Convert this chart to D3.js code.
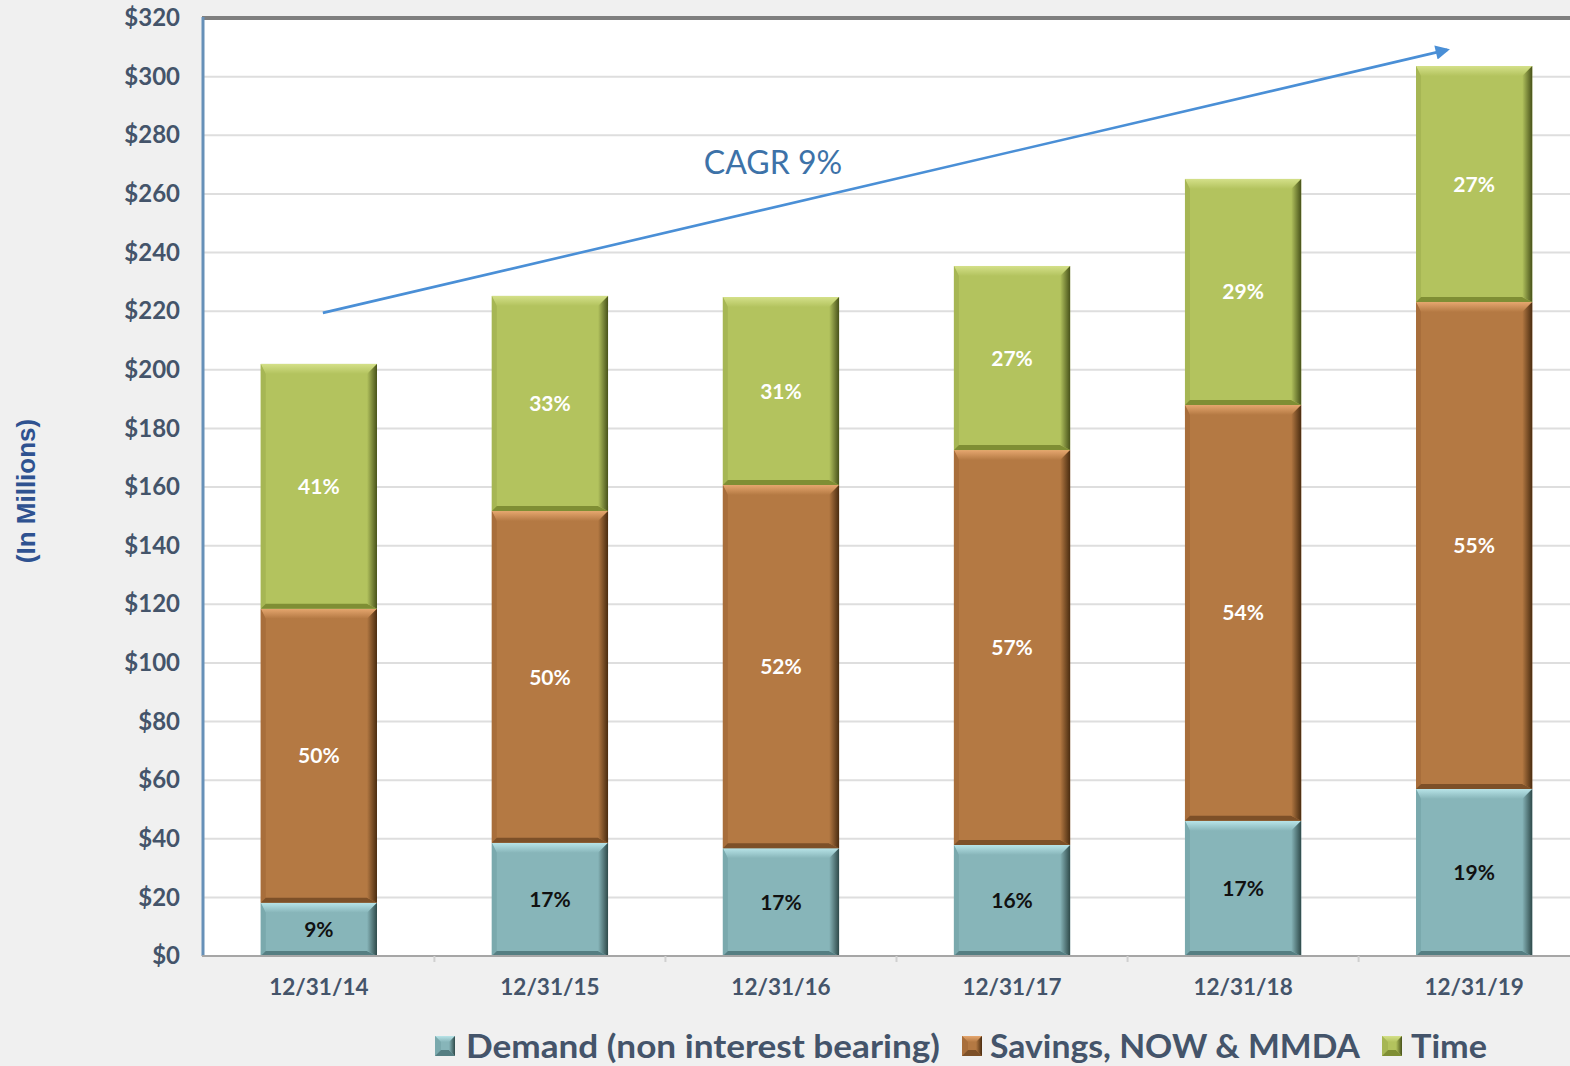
<!DOCTYPE html>
<html>
<head>
<meta charset="utf-8">
<script src="https://cdn.jsdelivr.net/npm/d3@7"></script>
<style>
  html, body { margin: 0; padding: 0; background: #f0f0f0; }
  svg { display: block; }
</style>
</head>
<body>
<svg id="chart" width="1570" height="1066"></svg>
<script>
// Deposit mix by year-end, in $ millions
const categories = ["12/31/14", "12/31/15", "12/31/16", "12/31/17", "12/31/18", "12/31/19"];
const demand  = [18.2, 38.6, 36.8, 37.9, 46.1, 57.0];
const savings = [100.3, 113.2, 123.9, 134.7, 141.9, 166.1];
const time    = [83.5, 73.4, 64.1, 62.8, 77.1, 80.5];
const demandPct  = ["9%", "17%", "17%", "16%", "17%", "19%"];
const savingsPct = ["50%", "50%", "52%", "57%", "54%", "55%"];
const timePct    = ["41%", "33%", "31%", "27%", "29%", "27%"];
const seriesNames = ["Demand (non interest bearing)", "Savings, NOW & MMDA", "Time"];
const yTicks = [0, 20, 40, 60, 80, 100, 120, 140, 160, 180, 200, 220, 240, 260, 280, 300, 320];
const cagrLabel = "CAGR 9%";

const svg = d3.select("#chart");
const W = 1570, H = 1066;
const plot = { left: 202, top: 18, bottom: 956, right: 1590 };

svg.append("rect").attr("width", W).attr("height", H).attr("fill", "#f0f0f0");
svg.append("rect")
  .attr("x", plot.left).attr("y", plot.top)
  .attr("width", W - plot.left).attr("height", plot.bottom - plot.top)
  .attr("fill", "#ffffff");

const x = d3.scaleBand().domain(categories).range([plot.left + 1, plot.right])
  .paddingInner(0.497).paddingOuter(0.25);
const y = d3.scaleLinear().domain([0, 320]).range([plot.bottom, plot.top]);

const styles = [
  { base: "#87b5b9", light: "#b8e4e8", left: "#7aa9ad", bottom: "#557e82", dark: "#2f4a4a", text: "#111111" },
  { base: "#b47943", light: "#e6a76f", left: "#a86e3b", bottom: "#7d5028", dark: "#4a2c10", text: "#ffffff" },
  { base: "#b3c35e", light: "#d4e089", left: "#a6b654", bottom: "#7f8e34", dark: "#48521a", text: "#ffffff" }
];

// gradients for the shaded edges of each bevelled segment
const defs = svg.append("defs");
styles.forEach((s, i) => {
  const g = defs.append("linearGradient").attr("id", "edge" + i)
    .attr("x1", "0").attr("y1", "0").attr("x2", "1").attr("y2", "0");
  g.append("stop").attr("offset", "0").attr("stop-color", s.base);
  g.append("stop").attr("offset", "1").attr("stop-color", s.dark);
  const t = defs.append("linearGradient").attr("id", "topg" + i)
    .attr("x1", "0").attr("y1", "0").attr("x2", "0").attr("y2", "1");
  t.append("stop").attr("offset", "0").attr("stop-color", s.light);
  t.append("stop").attr("offset", "1").attr("stop-color", s.base);
});

// horizontal gridlines
svg.append("g").selectAll("line")
  .data(yTicks.filter(v => v > 0 && v < 320))
  .join("line")
  .attr("x1", plot.left + 2).attr("x2", W)
  .attr("y1", d => y(d)).attr("y2", d => y(d))
  .attr("stroke", "#dedede").attr("stroke-width", 2);

function bevel(g, x0, x1, y0, y1, si, t, s, r, b) {
  const st = styles[si];
  g.append("rect").attr("x", x0).attr("y", y0).attr("width", x1 - x0).attr("height", y1 - y0).attr("fill", st.base);
  const poly = (pts, fill) => g.append("polygon").attr("points", pts.map(p => p.join(",")).join(" ")).attr("fill", fill);
  poly([[x0, y0], [x1, y0], [x1 - r, y0 + t], [x0 + s, y0 + t]], `url(#topg${si})`);
  poly([[x0, y0], [x0 + s, y0 + t], [x0 + s, y1 - b], [x0, y1]], st.left);
  poly([[x0, y1], [x0 + s, y1 - b], [x1 - r, y1 - b], [x1, y1]], st.bottom);
  poly([[x1, y0], [x1, y1], [x1 - r, y1 - b], [x1 - r, y0 + t]], `url(#edge${si})`);
}

// stacked data
const rows = categories.map((c, i) => ({ cat: c, demand: demand[i], savings: savings[i], time: time[i] }));
const stack = d3.stack().keys(["demand", "savings", "time"])(rows);
const pctLabels = [demandPct, savingsPct, timePct];

const barsG = svg.append("g");
stack.forEach((layer, si) => {
  layer.forEach((d, i) => {
    const x0 = x(categories[i]), x1 = x0 + x.bandwidth();
    const y0 = y(d[1]), y1 = y(d[0]);
    const g = barsG.append("g");
    bevel(g, x0, x1, y0, y1, si, 10, 5, 10, 5);
    g.append("text")
      .attr("x", x0 + x.bandwidth() / 2).attr("y", (y0 + y1) / 2)
      .attr("dy", "0.36em").attr("text-anchor", "middle")
      .attr("font-family", "Lato, 'Open Sans', sans-serif").attr("font-weight", 700)
      .attr("font-size", 21).attr("fill", styles[si].text)
      .text(pctLabels[si][i]);
  });
});

// plot frame: top border, left axis, bottom axis
svg.append("line").attr("x1", plot.left).attr("x2", W).attr("y1", plot.top).attr("y2", plot.top)
  .attr("stroke", "#7f7f7f").attr("stroke-width", 4);
svg.append("line").attr("x1", plot.left + 1).attr("x2", plot.left + 1).attr("y1", plot.top - 1).attr("y2", plot.bottom)
  .attr("stroke", "#6690b8").attr("stroke-width", 3);

const xAxis = svg.append("g").attr("transform", `translate(0,${plot.bottom})`)
  .call(d3.axisBottom(x).tickSize(0).tickPadding(23));
xAxis.select(".domain").attr("stroke", "#a6a6a6").attr("stroke-width", 2)
  .attr("d", `M${plot.left},0H${W}`);
xAxis.selectAll("text")
  .attr("font-family", "Lato, 'Open Sans', sans-serif").attr("font-weight", 700)
  .attr("font-size", 22.5).attr("fill", "#44546a").attr("dy", "0.71em");
// separators between categories
svg.append("g").selectAll("line")
  .data(categories.slice(1))
  .join("line")
  .attr("x1", d => x(d) - x.step() * x.paddingInner() / 2)
  .attr("x2", d => x(d) - x.step() * x.paddingInner() / 2)
  .attr("y1", plot.bottom).attr("y2", plot.bottom + 6)
  .attr("stroke", "#d0d0d0").attr("stroke-width", 2);

const yAxis = svg.append("g").attr("transform", `translate(${plot.left},0)`)
  .call(d3.axisLeft(y).tickValues(yTicks).tickSize(0).tickPadding(22).tickFormat(d => "$" + d));
yAxis.select(".domain").remove();
yAxis.selectAll("text")
  .attr("font-family", "Lato, 'Open Sans', sans-serif").attr("font-weight", 700)
  .attr("font-size", 24).attr("fill", "#44546a");

// y axis title
svg.append("text")
  .attr("transform", `translate(35,${491}) rotate(-90)`)
  .attr("text-anchor", "middle")
  .attr("font-family", "'Liberation Sans', Arial, sans-serif").attr("font-weight", 700)
  .attr("font-size", 26).attr("fill", "#2f5290")
  .text("(In Millions)");

// growth arrow annotation
const arrowStart = [x(categories[0]) + x.bandwidth() / 2 + 4, y(219.4)];
const arrowEnd = [x(categories[5]) + x.bandwidth() / 2 - 25, y(309.3)];
defs.append("marker").attr("id", "arrowhead")
  .attr("viewBox", "0 0 10 10").attr("refX", 8).attr("refY", 5)
  .attr("markerWidth", 7).attr("markerHeight", 5.5).attr("orient", "auto")
  .attr("markerUnits", "strokeWidth")
  .append("path").attr("d", "M0,0L10,5L0,10Z").attr("fill", "#4a8fd6");
svg.append("line")
  .attr("x1", arrowStart[0]).attr("y1", arrowStart[1])
  .attr("x2", arrowEnd[0] - 2).attr("y2", arrowEnd[1] + 0.5)
  .attr("stroke", "#4a8fd6").attr("stroke-width", 2.6)
  .attr("marker-end", "url(#arrowhead)");
svg.append("text")
  .attr("x", x(categories[2]) + x.bandwidth() / 2 - 8).attr("y", y(270.6))
  .attr("dy", "0.36em").attr("text-anchor", "middle")
  .attr("font-family", "Lato, 'Open Sans', sans-serif").attr("font-weight", 400)
  .attr("font-size", 32).attr("fill", "#3d72a8")
  .text(cagrLabel);

// legend
const legendItems = [
  { name: seriesNames[0], si: 0, sx: 435, tx: 466, tw: 474 },
  { name: seriesNames[1], si: 1, sx: 962, tx: 990, tw: 370 },
  { name: seriesNames[2], si: 2, sx: 1382, tx: 1411, tw: 76 }
];
const legend = svg.append("g");
legendItems.forEach(it => {
  const g = legend.append("g");
  bevel(g, it.sx, it.sx + 20, 1036, 1056, it.si, 6, 6, 6, 6);
  g.append("text").attr("x", it.tx).attr("y", 1046).attr("dy", "0.36em")
    .attr("font-family", "Lato, 'Open Sans', sans-serif").attr("font-weight", 700)
    .attr("font-size", 32).attr("fill", "#44546a")
    .attr("textLength", it.tw).attr("lengthAdjust", "spacingAndGlyphs")
    .text(it.name);
});
</script>
</body>
</html>
